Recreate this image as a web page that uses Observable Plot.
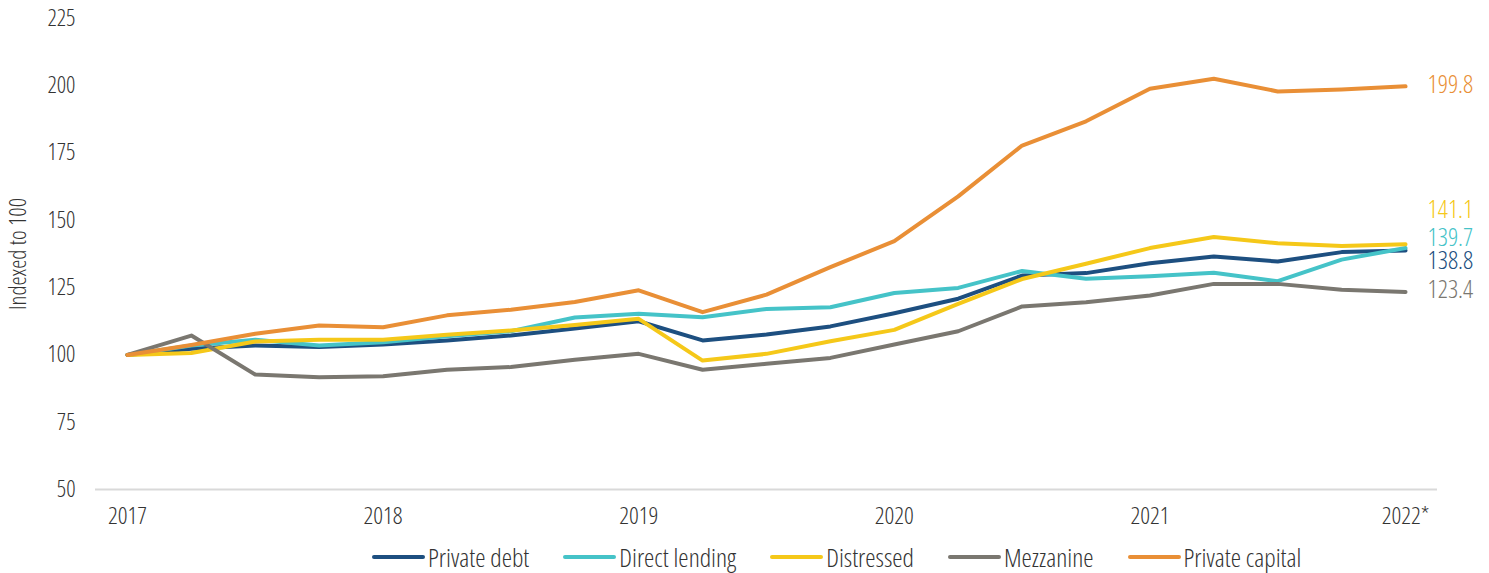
<!DOCTYPE html>
<html>
<head>
<meta charset="utf-8">
<script src="https://cdn.jsdelivr.net/npm/d3@7"></script>
<script src="https://cdn.jsdelivr.net/npm/@observablehq/plot@0.6"></script>
<style>
  html, body { margin: 0; padding: 0; background: #fff; }
  body { width: 1489px; height: 573px; overflow: hidden; font-family: "Open Sans", sans-serif; font-stretch: 75%; font-weight: 300; color: #333; position: relative; }
  svg text { font-stretch: 75%; font-weight: 300; }
  #legend { position: absolute; top: 543px; left: 372px; height: 28px; line-height: 28px; display: flex; align-items: center; font-size: 26px; color: #333; white-space: nowrap; }
  .item { display: flex; align-items: center; margin-right: 34px; }
  .sw { width: 53px; height: 4px; border-radius: 2px; margin-right: 3px; }
</style>
</head>
<body>
<div id="chart"></div>
<div id="legend"></div>
<script>
const quarters = ["2017 Q1","2017 Q2","2017 Q3","2017 Q4","2018 Q1","2018 Q2","2018 Q3","2018 Q4","2019 Q1","2019 Q2","2019 Q3","2019 Q4","2020 Q1","2020 Q2","2020 Q3","2020 Q4","2021 Q1","2021 Q2","2021 Q3","2021 Q4","2022 Q1"];
const tickQuarters = ["2017 Q1","2018 Q1","2019 Q1","2020 Q1","2021 Q1","2022 Q1"];
const tickLabels = ["2017","2018","2019","2020","2021","2022*"];
const yTicks = [50,75,100,125,150,175,200,225];

const seriesNames = ["Private debt","Direct lending","Distressed","Mezzanine","Private capital"];
const seriesColors = ["#1d4f80","#45c3c8","#f5c819","#7a7770","#e98f36"];

const privateDebt    = [100,102.3,103.5,102.9,103.9,105.4,107.2,109.8,112.5,105.4,107.6,110.6,115.5,120.9,129.5,130.4,134.1,136.6,134.7,138.2,138.8];
const directLending  = [100,103.5,105.6,103.5,104.7,106.9,108.8,113.9,115.3,114.0,117.1,117.7,123.0,124.9,131.2,128.3,129.2,130.5,127.4,135.4,139.7];
const distressed     = [100,100.7,105.0,105.6,105.6,107.5,109.1,111.1,113.4,97.9,100.4,105.1,109.3,119.0,128.2,133.9,139.7,143.8,141.5,140.5,141.1];
const mezzanine      = [100,107.2,92.7,91.7,92.1,94.5,95.5,98.2,100.4,94.5,96.7,98.9,103.9,108.8,118.0,119.6,122.1,126.4,126.4,124.2,123.4];
const privateCapital = [100,103.7,107.9,110.9,110.3,114.7,116.8,119.7,124.0,115.9,122.4,132.6,142.3,158.9,177.8,186.8,198.9,202.6,197.9,198.6,199.8];
const endLabels = ["138.8","139.7","141.1","123.4","199.8"];

const seriesValues = [privateDebt, directLending, distressed, mezzanine, privateCapital];
const data = [];
seriesNames.forEach((s, i) => quarters.forEach((q, j) => data.push({series: s, q, v: seriesValues[i][j]})));
const last = seriesNames.map((s, i) => ({series: s, q: quarters[quarters.length - 1], v: seriesValues[i][quarters.length - 1], label: endLabels[i]}));
const labelDy = {"Private debt": 12, "Direct lending": -8, "Distressed": -33, "Mezzanine": 0, "Private capital": 0};

const font = '"Open Sans", sans-serif';

const chart = Plot.plot({
  width: 1489,
  height: 535,
  marginLeft: 95,
  marginRight: 52,
  marginTop: 18,
  marginBottom: 46,
  style: {fontFamily: font, fontSize: "24px", color: "#333", background: "#fff", overflow: "visible"},
  x: {type: "point", domain: quarters, padding: 0.5, round: false},
  y: {domain: [50, 225]},
  color: {domain: seriesNames, range: seriesColors},
  marks: [
    Plot.ruleY([50], {stroke: "#d9d9d9", strokeWidth: 2}),
    Plot.axisX({ticks: tickQuarters, tickFormat: d => tickLabels[tickQuarters.indexOf(d)], tickSize: 0, tickPadding: 17, label: null, fontSize: 24, fill: "#333"}),
    Plot.axisY({ticks: yTicks, tickSize: 0, tickPadding: 20, label: "Indexed to 100", labelAnchor: "center", labelArrow: "none", labelOffset: 86, fontSize: 23, fill: "#333"}),
    Plot.line(data, {x: "q", y: "v", z: "series", stroke: "series", strokeWidth: 4, strokeLinejoin: "round"}),
    ...seriesNames.map(s => Plot.text(last.filter(d => d.series === s), {x: "q", y: "v", text: "label", fill: "series", textAnchor: "start", dx: 22, dy: labelDy[s], fontSize: 25, lineHeight: 0.8}))
  ]
});
document.getElementById("chart").appendChild(chart);

const legend = document.getElementById("legend");
seriesNames.forEach((s, i) => {
  const it = document.createElement("div");
  it.className = "item";
  const sw = document.createElement("div");
  sw.className = "sw";
  sw.style.background = seriesColors[i];
  const t = document.createElement("span");
  t.textContent = s;
  it.appendChild(sw); it.appendChild(t);
  legend.appendChild(it);
});
</script>
</body>
</html>
